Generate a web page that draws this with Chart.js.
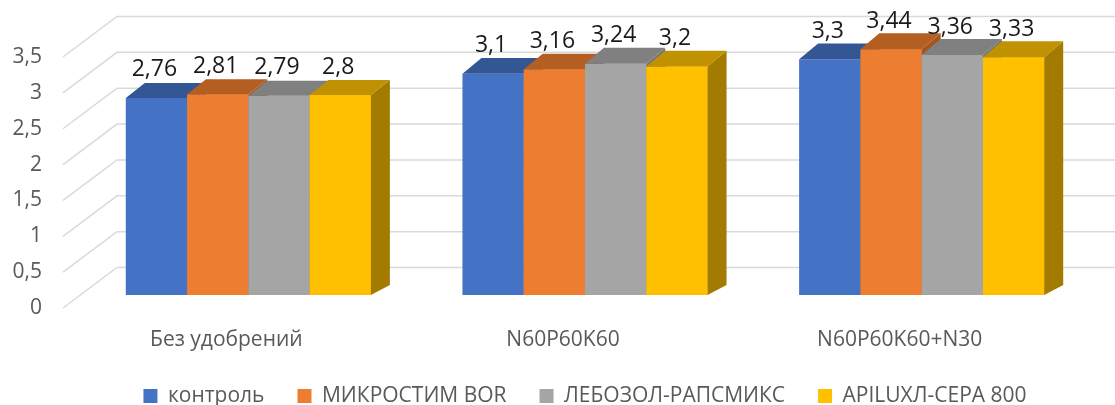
<!DOCTYPE html>
<html>
<head>
<meta charset="utf-8">
<script src="https://cdn.jsdelivr.net/npm/chart.js@4"></script>
<style>
  html, body { margin: 0; padding: 0; background: #fff; }
</style>
</head>
<body>
<canvas id="chart" width="1115" height="405"></canvas>
<script>
// data
const groups = ["Без удобрений", "N60P60K60", "N60P60K60+N30"];
const seriesNames = ["контроль", "МИКРОСТИМ BOR", "ЛЕБОЗОЛ-РАПСМИКС", "APILUXЛ-СЕРА 800"];
const kontrol = [2.76, 3.1, 3.3];
const mikrostim = [2.81, 3.16, 3.44];
const lebozol = [2.79, 3.24, 3.36];
const apilux = [2.8, 3.2, 3.33];
const yTicks = [0, 0.5, 1, 1.5, 2, 2.5, 3, 3.5];

const frontColors = ["#4472C4", "#ED7D31", "#A5A5A5", "#FFC000"];
const topColors = ["#335694", "#B55E22", "#808080", "#C09100"];
const sideColors = ["#2E4F8A", "#A55520", "#757575", "#A27B00"];

const FONT = "'Open Sans', sans-serif";
const fmt = v => String(v).replace(".", ",");

// fake 3d: walls, bar tops/sides and value labels
const box3d = {
  id: "box3d",
  beforeDatasetsDraw(chart) {
    const ctx = chart.ctx, y = chart.scales.y, area = chart.chartArea;
    const x0 = area.left - 17;
    ctx.save();
    ctx.strokeStyle = "#D9D9D9";
    ctx.lineWidth = 1.5;
    yTicks.forEach(v => {
      const py = y.getPixelForValue(v);
      ctx.beginPath();
      ctx.moveTo(x0, py);
      ctx.lineTo(x0 + 54, py - 40.5);
      ctx.lineTo(chart.width, py - 40.5);
      ctx.stroke();
    });
    ctx.restore();
  },
  afterDatasetsDraw(chart) {
    const ctx = chart.ctx;
    const metas = chart.data.datasets.map((ds, i) => chart.getDatasetMeta(i));
    ctx.save();
    // paint left to right inside each group so the next bar hides the sides
    groups.forEach((g, j) => {
      metas.forEach((meta, i) => {
        const bar = meta.data[j];
        if (i > 0) bar.draw(ctx);
        const {x, y, base, width} = bar.getProps(["x", "y", "base", "width"], true);
        const l = x - width / 2, r = x + width / 2;
        const dTop = 10 + 0.025 * (base - y);
        ctx.fillStyle = sideColors[i];
        ctx.beginPath();
        ctx.moveTo(r, y);
        ctx.lineTo(r + 19, y - dTop);
        ctx.lineTo(r + 19, base - 10);
        ctx.lineTo(r, base);
        ctx.closePath();
        ctx.fill();
        ctx.fillStyle = topColors[i];
        ctx.beginPath();
        ctx.moveTo(l, y);
        ctx.lineTo(l + 19, y - dTop);
        ctx.lineTo(r + 19, y - dTop);
        ctx.lineTo(r, y);
        ctx.closePath();
        ctx.fill();
      });
    });

    ctx.font = "23px " + FONT;
    ctx.fillStyle = "#1A1A1A";
    ctx.textAlign = "center";
    ctx.textBaseline = "middle";
    chart.data.datasets.forEach((ds, i) => {
      metas[i].data.forEach((bar, j) => {
        ctx.fillText(fmt(ds.data[j]), bar.x - 2, bar.y - 28);
      });
    });
    ctx.restore();
  }
};

const allSeries = [kontrol, mikrostim, lebozol, apilux];

new Chart(document.getElementById("chart"), {
  type: "bar",
  data: {
    labels: groups,
    datasets: allSeries.map((d, i) => ({
      label: seriesNames[i],
      data: d,
      yAxisID: "yb",
      backgroundColor: frontColors[i],
      borderWidth: 0,
      categoryPercentage: 0.728,
      barPercentage: 1
    }))
  },
  options: {
    responsive: false,
    animation: false,
    layout: { padding: { left: 0, right: 25, top: 16, bottom: -11.5 } },
    scales: {
      x: {
        offset: true,
        grid: { display: false, drawTicks: false },
        border: { display: false },
        ticks: { font: { family: FONT, size: 21 }, color: "#595959", padding: 19, labelOffset: -22, maxRotation: 0 },
        afterFit: s => { s.height = 44.5; }
      },
      y: {
        position: "left",
        min: 0,
        max: 4.072,
        afterBuildTicks: s => { s.ticks = yTicks.map(v => ({ value: v })); },
        grid: { display: false, drawTicks: false },
        border: { display: false },
        ticks: { font: { family: FONT, size: 21 }, color: "#595959", padding: 38, callback: v => fmt(v) },
        afterFit: s => { s.width = 80; s.paddingTop = 0; s.paddingBottom = 0; }
      },
      yb: {
        display: false,
        min: -0.182,
        max: 3.907
      }
    },
    plugins: {
      tooltip: { enabled: false },
      legend: {
        position: "bottom",
        fullSize: false,
        labels: { font: { family: FONT, size: 21 }, color: "#595959", boxWidth: 14, boxHeight: 14, padding: 33 }
      }
    }
  },
  plugins: [box3d]
});
</script>
</body>
</html>
